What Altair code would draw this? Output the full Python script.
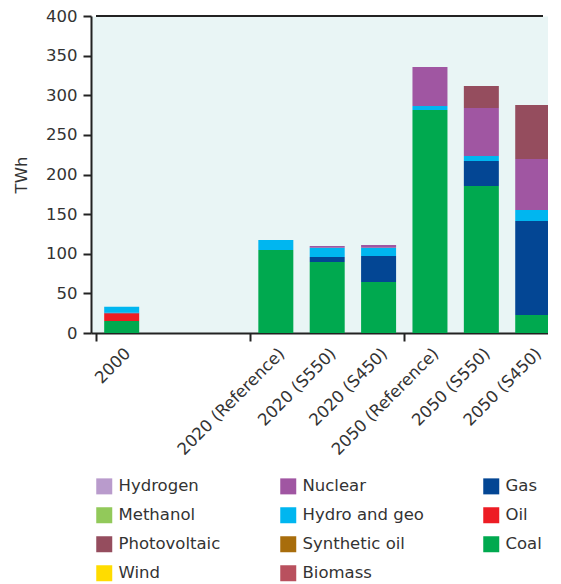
import altair as alt
import pandas as pd

# Slots on the x axis (two empty slots after 2000)
slot_labels = ["2000", "", "", "2020 (Reference)", "2020 (S550)", "2020 (S450)",
               "2050 (Reference)", "2050 (S550)", "2050 (S450)"]
categories = ["2000", "2020 (Reference)", "2020 (S550)", "2020 (S450)",
              "2050 (Reference)", "2050 (S550)", "2050 (S450)"]

# Series values (TWh) per category
coal = [15.1, 104.7, 89.6, 64.4, 281.4, 185.5, 22.7]
oil = [9.7, 0, 0, 0, 0, 0, 0]
gas = [0.8, 0, 6.3, 32.8, 0, 31.5, 118.6]
biomass = [0, 0, 0, 0, 0, 0, 0]
synthetic_oil = [0, 0, 0, 0, 0, 0, 0]
hydro = [7.6, 12.7, 11.8, 10.5, 5.0, 6.3, 13.9]
nuclear = [0, 0, 2.1, 3.3, 49.2, 60.7, 64.4]
wind = [0, 0, 0, 0, 0, 0, 0]
photovoltaic = [0, 0, 0, 0, 0, 27.7, 68.1]
methanol = [0, 0, 0, 0, 0, 0, 0]
hydrogen = [0, 0, 0, 0, 0, 0, 0]

# stacking order, bottom to top
stack_series = [
    ("Coal", coal), ("Oil", oil), ("Gas", gas), ("Biomass", biomass),
    ("Synthetic oil", synthetic_oil), ("Hydro and geo", hydro),
    ("Nuclear", nuclear), ("Wind", wind), ("Photovoltaic", photovoltaic),
    ("Methanol", methanol), ("Hydrogen", hydrogen),
]

# legend order (filled column by column, 3 columns)
legend_order = ["Hydrogen", "Methanol", "Photovoltaic", "Wind",
                "Nuclear", "Hydro and geo", "Synthetic oil", "Biomass",
                "Gas", "Oil", "Coal"]
legend_colors = ["#B99BCC", "#92C95A", "#954D5E", "#FFDC00",
                 "#A056A2", "#00B6F0", "#A86D0C", "#B9505E",
                 "#034694", "#ED1C24", "#00A94F"]

rows = []
for rank, (name, vals) in enumerate(stack_series):
    for cat, v in zip(categories, vals):
        if v > 0:
            rows.append({"category": cat, "pos": slot_labels.index(cat) + 0.5,
                         "source": name, "value": v, "rank": rank})
df = pd.DataFrame(rows)

X_MAX = 8.7
label_values = [i + 0.5 for i, s in enumerate(slot_labels) if s]
tick_values = [0, 3, 6]
arr = "[" + ",".join("'" + s + "'" for s in slot_labels) + "]"
label_expr = f"datum.value % 1 === 0 ? '' : {arr}[floor(datum.value)]"

FONT = "DejaVu Sans"
TXT = "#333333"
AX = "#222222"

x_scale = alt.Scale(domain=[0, X_MAX], nice=False, zero=False)
y_scale = alt.Scale(domain=[0, 400], nice=False)

x_axis = alt.Axis(values=sorted(tick_values + label_values),
                  labelExpr=label_expr, labelAngle=-45,
                  labelFontSize=16.5, labelFont=FONT, labelColor=TXT,
                  labelPadding=4, tickSize=8, tickWidth=2, tickColor=AX,
                  tickOpacity={"condition": {"test": "datum.value % 1 === 0", "value": 1}, "value": 0},
                  domainColor=AX, domainWidth=2,
                  grid=False, title=None, labelOverlap=False, labelBound=False)
y_axis = alt.Axis(values=list(range(0, 401, 50)), title="TWh",
                  titleFont=FONT, titleFontSize=16.5, titleFontWeight="normal",
                  titleColor=TXT, titlePadding=16,
                  labelFont=FONT, labelFontSize=16.5, labelColor=TXT,
                  labelPadding=6, tickSize=8, tickWidth=2, tickColor=AX,
                  labelOverlap=False,
                  domainColor=AX, domainWidth=2, grid=False)

bars = alt.Chart(df).mark_bar(size=35, clip=True).encode(
    x=alt.X("pos:Q", scale=x_scale, axis=x_axis),
    y=alt.Y("value:Q", stack="zero", scale=y_scale, axis=y_axis),
    color=alt.Color("source:N",
                    scale=alt.Scale(domain=legend_order, range=legend_colors),
                    legend=alt.Legend(title=None, orient="none", legendX=5, legendY=462,
                                      columns=3, columnPadding=59, rowPadding=12,
                                      symbolType="square", symbolSize=256,
                                      symbolStrokeWidth=0, symbolOpacity=1,
                                      labelFont=FONT, labelFontSize=16.5, labelColor=TXT,
                                      labelOffset=6, labelLimit=300)),
    order=alt.Order("rank:Q", sort="ascending"),
)

# top frame line of the plot area
frame_top = alt.Chart(df).mark_rule(color=AX, strokeWidth=2).encode(
    x=alt.datum(0, scale=x_scale, axis=x_axis), x2=alt.datum(X_MAX),
    y=alt.datum(400, scale=y_scale, axis=y_axis),
)

chart = alt.layer(bars, frame_top).properties(
    width=457, height=317,
    padding={"left": 5, "top": 0, "right": 0, "bottom": 0},
    view=alt.ViewBackground(fill="#E9F5F5", stroke="transparent"),
).configure_view(
    fill="#E9F5F5", stroke="transparent"
).configure(background="white")

chart.save("out.html", embed_options={"renderer": "svg", "actions": False})
